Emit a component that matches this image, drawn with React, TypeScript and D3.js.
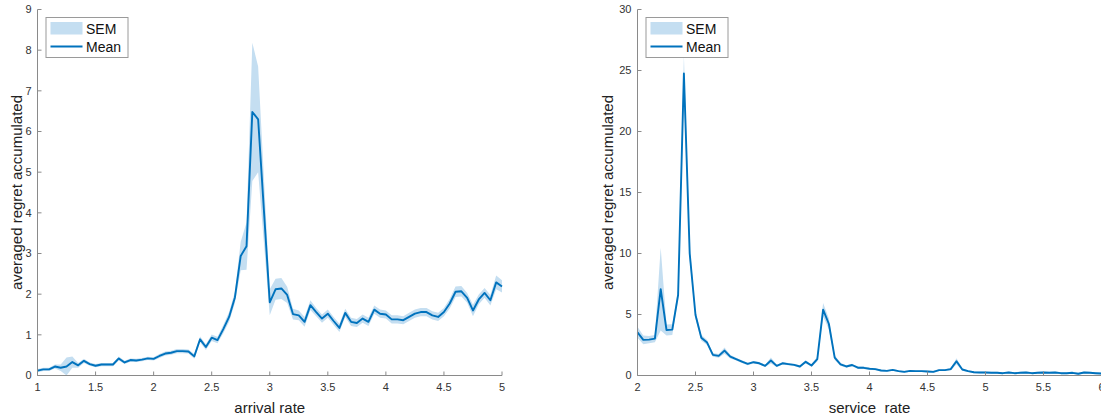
import React from "react";
import * as d3 from "d3";

// ---------- data ----------
const arrivalRates = d3.range(0, 81).map((i) => +(1 + i * 0.05).toFixed(2));
const arrivalMean = [
  0.12, 0.15, 0.15, 0.22, 0.19, 0.22, 0.33, 0.25, 0.36, 0.28,
  0.24, 0.27, 0.27, 0.27, 0.42, 0.32, 0.38, 0.37, 0.39, 0.42,
  0.41, 0.48, 0.54, 0.56, 0.6, 0.6, 0.59, 0.47, 0.89, 0.7,
  0.93, 0.87, 1.14, 1.44, 1.92, 2.94, 3.18, 6.48, 6.3, 4.05,
  1.8, 2.12, 2.14, 1.98, 1.51, 1.48, 1.32, 1.73, 1.56, 1.4,
  1.52, 1.34, 1.17, 1.54, 1.32, 1.29, 1.4, 1.32, 1.62, 1.52,
  1.5, 1.38, 1.38, 1.36, 1.44, 1.52, 1.56, 1.56, 1.48, 1.44,
  1.56, 1.77, 2.06, 2.07, 1.91, 1.6, 1.87, 2.03, 1.85, 2.29,
  2.19,
];
const arrivalSem = [
  0.04, 0.04, 0.04, 0.05, 0.08, 0.22, 0.14, 0.06, 0.05, 0.04,
  0.04, 0.04, 0.04, 0.04, 0.05, 0.04, 0.04, 0.04, 0.04, 0.04,
  0.04, 0.05, 0.05, 0.05, 0.05, 0.05, 0.05, 0.06, 0.07, 0.07,
  0.08, 0.08, 0.1, 0.12, 0.14, 0.35, 0.58, 1.7, 1.3, 0.8,
  0.32, 0.26, 0.26, 0.2, 0.13, 0.12, 0.12, 0.12, 0.1, 0.1,
  0.1, 0.1, 0.1, 0.1, 0.1, 0.1, 0.1, 0.1, 0.1, 0.1,
  0.1, 0.1, 0.1, 0.1, 0.1, 0.1, 0.1, 0.1, 0.1, 0.1,
  0.1, 0.12, 0.13, 0.13, 0.12, 0.14, 0.12, 0.12, 0.13, 0.17,
  0.15,
];

const serviceRates = d3.range(0, 81).map((i) => +(2 + i * 0.05).toFixed(2));
const serviceMean = [
  3.54, 2.92, 2.94, 3.02, 7.08, 3.73, 3.76, 6.6, 24.75, 10.0,
  4.96, 3.1, 2.7, 1.69, 1.61, 2.04, 1.55, 1.34, 1.14, 0.95,
  1.09, 1.0, 0.79, 1.23, 0.79, 1.0, 0.93, 0.87, 0.74, 1.12,
  0.82, 1.34, 5.4, 4.22, 1.47, 0.92, 0.74, 0.86, 0.64, 0.63,
  0.55, 0.52, 0.41, 0.38, 0.46, 0.36, 0.3, 0.38, 0.36, 0.36,
  0.33, 0.3, 0.44, 0.44, 0.52, 1.17, 0.49, 0.36, 0.27, 0.25,
  0.25, 0.22, 0.22, 0.19, 0.25, 0.19, 0.22, 0.25, 0.19, 0.22,
  0.25, 0.22, 0.25, 0.19, 0.19, 0.22, 0.14, 0.25, 0.22, 0.19,
  0.16,
];
const serviceSem = [
  0.45, 0.35, 0.3, 0.3, 3.4, 0.45, 0.45, 0.4, 1.5, 0.6,
  0.3, 0.25, 0.2, 0.15, 0.15, 0.25, 0.15, 0.12, 0.12, 0.1,
  0.1, 0.1, 0.1, 0.25, 0.1, 0.1, 0.1, 0.1, 0.1, 0.12,
  0.1, 0.2, 0.55, 0.45, 0.2, 0.12, 0.1, 0.1, 0.1, 0.1,
  0.08, 0.08, 0.08, 0.08, 0.08, 0.08, 0.08, 0.08, 0.08, 0.08,
  0.08, 0.08, 0.08, 0.08, 0.1, 0.25, 0.1, 0.08, 0.08, 0.08,
  0.08, 0.08, 0.08, 0.08, 0.08, 0.08, 0.08, 0.08, 0.08, 0.08,
  0.08, 0.08, 0.08, 0.08, 0.08, 0.08, 0.08, 0.08, 0.08, 0.08,
  0.08,
];

const arrivalXTicks = [1, 1.5, 2, 2.5, 3, 3.5, 4, 4.5, 5];
const arrivalYTicks = [0, 1, 2, 3, 4, 5, 6, 7, 8, 9];
const serviceXTicks = [2, 2.5, 3, 3.5, 4, 4.5, 5, 5.5, 6];
const serviceYTicks = [0, 5, 10, 15, 20, 25, 30];

const yLabel = "averaged regret accumulated";
const legendLabels = ["SEM", "Mean"];

// ---------- styles ----------
const LINE = "#0072BD";
const FILL = "#c4def1";
const AXIS = "#8a8a8a";
const TICKTXT = "#333333";
const FONT = "'Liberation Sans', Arial, Helvetica, sans-serif";

type PanelProps = {
  x0: number;
  x1: number;
  yTop: number;
  yBot: number;
  xs: number[];
  mean: number[];
  sem: number[];
  xDomain: [number, number];
  yDomain: [number, number];
  xTicks: number[];
  yTicks: number[];
  xLabel: string;
  yLabelX: number;
};

function Panel(p: PanelProps) {
  const x = d3.scaleLinear().domain(p.xDomain).range([p.x0, p.x1]);
  const y = d3.scaleLinear().domain(p.yDomain).range([p.yBot, p.yTop]);
  const pts = p.xs.map((v, i) => ({ x: v, m: p.mean[i], s: p.sem[i] }));
  const area = d3
    .area<{ x: number; m: number; s: number }>()
    .x((d) => x(d.x))
    .y0((d) => y(Math.max(0, d.m - d.s)))
    .y1((d) => y(d.m + d.s));
  const line = d3
    .line<{ x: number; m: number; s: number }>()
    .x((d) => x(d.x))
    .y((d) => y(d.m));
  const lx = p.x0 + 8.5;
  const ly = 17.5;
  const midY = (p.yTop + p.yBot) / 2;
  return (
    <g>
      <path d={area(pts) || ""} fill={FILL} stroke="none" />
      <path d={line(pts) || ""} fill="none" stroke={LINE} strokeWidth={1.9} strokeLinejoin="round" />
      {/* axes */}
      <line x1={p.x0} x2={p.x0} y1={p.yTop} y2={p.yBot} stroke={AXIS} strokeWidth={1} />
      <line x1={p.x0} x2={p.x1} y1={p.yBot} y2={p.yBot} stroke={AXIS} strokeWidth={1} />
      {p.yTicks.map((t) => (
        <g key={"y" + t}>
          <line x1={p.x0} x2={p.x0 + 4} y1={y(t)} y2={y(t)} stroke={AXIS} />
          <text x={p.x0 - 6} y={y(t)} dy="0.35em" textAnchor="end" fontSize={11} fill={TICKTXT} fontFamily={FONT}>
            {t}
          </text>
        </g>
      ))}
      {p.xTicks.map((t) => (
        <g key={"x" + t}>
          <line x1={x(t)} x2={x(t)} y1={p.yBot} y2={p.yBot - 4} stroke={AXIS} />
          <text x={x(t)} y={p.yBot + 15} textAnchor="middle" fontSize={11} fill={TICKTXT} fontFamily={FONT}>
            {t}
          </text>
        </g>
      ))}
      <text
        x={(p.x0 + p.x1) / 2}
        y={p.yBot + 37}
        textAnchor="middle"
        fontSize={15}
        fill="#222"
        fontFamily={FONT}
        style={{ whiteSpace: "pre" }}
      >
        {p.xLabel}
      </text>
      <text
        transform={`translate(${p.yLabelX},${midY}) rotate(-90)`}
        textAnchor="middle"
        dy="0.35em"
        fontSize={15}
        fill="#222"
        fontFamily={FONT}
      >
        {yLabel}
      </text>
      {/* legend */}
      <rect x={lx} y={ly} width={82} height={40} fill="#fff" stroke="#9a9a9a" strokeWidth={1} />
      <rect x={lx + 4.5} y={ly + 4.5} width={32} height={12.5} fill={FILL} />
      <line x1={lx + 4.5} x2={lx + 36.5} y1={ly + 29} y2={ly + 29} stroke={LINE} strokeWidth={1.9} />
      <text x={lx + 40} y={ly + 16} fontSize={14} fill="#111" fontFamily={FONT}>
        {legendLabels[0]}
      </text>
      <text x={lx + 40} y={ly + 34.5} fontSize={14} fill="#111" fontFamily={FONT}>
        {legendLabels[1]}
      </text>
    </g>
  );
}

export default function App() {
  return (
    <svg
      width={1101}
      height={417}
      style={{ position: "absolute", left: 0, top: 0, background: "#fff" }}
    >
      <rect x={0} y={0} width={1101} height={417} fill="#fff" />
      <Panel
        x0={37.5}
        x1={502}
        yTop={9.5}
        yBot={375.5}
        xs={arrivalRates}
        mean={arrivalMean}
        sem={arrivalSem}
        xDomain={[1, 5]}
        yDomain={[0, 9]}
        xTicks={arrivalXTicks}
        yTicks={arrivalYTicks}
        xLabel="arrival rate"
        yLabelX={17}
      />
      <Panel
        x0={637.5}
        x1={1101.5}
        yTop={9.5}
        yBot={375.5}
        xs={serviceRates}
        mean={serviceMean}
        sem={serviceSem}
        xDomain={[2, 6]}
        yDomain={[0, 30]}
        xTicks={serviceXTicks}
        yTicks={serviceYTicks}
        xLabel="service  rate"
        yLabelX={608}
      />
    </svg>
  );
}
